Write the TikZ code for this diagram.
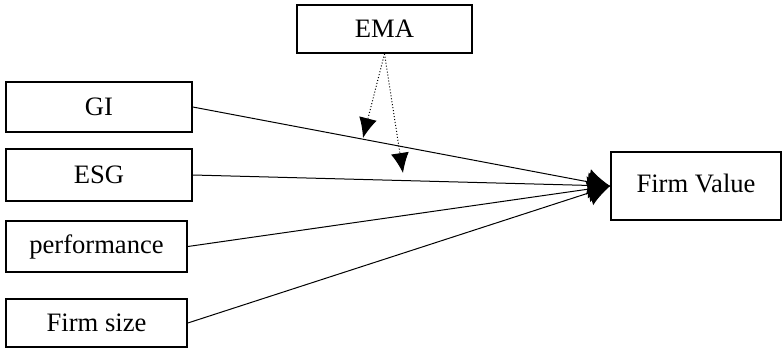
\documentclass[tikz,border=0pt]{standalone}
\usepackage{fontspec}
\setmainfont{Liberation Serif}
\usetikzlibrary{arrows.meta}

\tikzset{
	varbox/.style={draw, line width=0.8pt, fill=white, inner sep=0pt, font=\fontsize{13.3}{15}\selectfont},
	path/.style={line width=0.5pt, -{Latex[length=11pt,width=13pt]}},
	moder/.style={densely dotted, line width=0.5pt, -{Latex[length=10pt,width=9pt]}}
}

\begin{document}
\begin{tikzpicture}[x=0.5pt, y=-0.5pt]
		\useasboundingbox (0,0) rectangle (783,349);

		\node[varbox, minimum width=87.5pt, minimum height=24pt] (ema) at (384.5,29) {EMA};
		\node[varbox, minimum width=93pt, minimum height=25pt] (gi) at (99,107) {GI};
		\node[varbox, minimum width=93pt, minimum height=26pt] (esg) at (99,175) {ESG};
		\node[varbox, minimum width=90.5pt, minimum height=25.5pt] (perf) at (96.5,246.5) {performance};
		\node[varbox, minimum width=90.5pt, minimum height=24pt] (size) at (96.5,323) {Firm size};
		\node[varbox, minimum width=85pt, minimum height=34pt] (fv) at (696,186) {\raisebox{3pt}{Firm Value}};

		\coordinate (m1) at (363,138);
		\coordinate (m2) at (403,173);

		\draw[path] (gi.east) -- (fv.west);
		\draw[path] (esg.east) -- (fv.west);
		\draw[path] (perf.east) -- (fv.west);
		\draw[path] (size.east) -- (fv.west);

		\draw[moder] (ema.south) -- (m1);
		\draw[moder] (ema.south) -- (m2);
	\end{tikzpicture}
\end{document}
